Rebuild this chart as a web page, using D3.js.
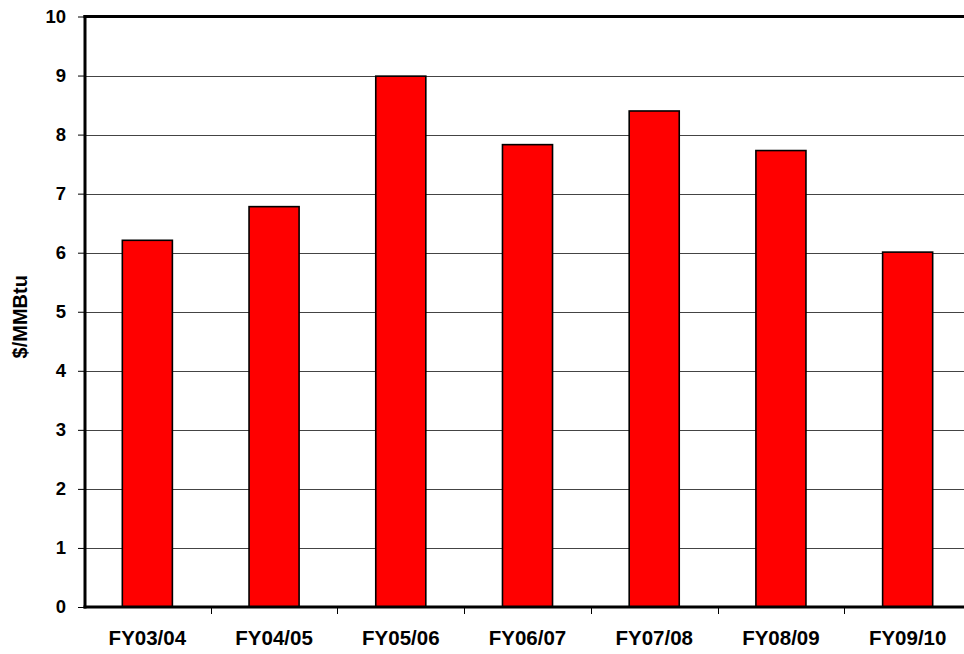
<!DOCTYPE html>
<html>
<head>
<meta charset="utf-8">
<script src="https://cdn.jsdelivr.net/npm/d3@7"></script>
<style>
  body { margin: 0; background: #fff; }
  svg { display: block; font-family: "Liberation Sans", Arial, sans-serif; font-weight: bold; }
</style>
</head>
<body>
<svg width="964" height="654"></svg>
<script>
const categories = ["FY03/04", "FY04/05", "FY05/06", "FY06/07", "FY07/08", "FY08/09", "FY09/10"];
const prices = [6.21, 6.78, 8.99, 7.83, 8.40, 7.73, 6.01];
const yTicks = [0, 1, 2, 3, 4, 5, 6, 7, 8, 9, 10];

const svg = d3.select("svg");
const plotLeft = 85, plotRight = 971, plotTop = 16.5, plotBottom = 607;

const x = d3.scaleBand()
  .domain(categories)
  .range([84, plotRight])
  .paddingInner(0.605)
  .paddingOuter(0.3025);

const y = d3.scaleLinear().domain([0, 10]).range([plotBottom, plotTop]);

// gridlines
svg.append("g")
  .selectAll("line")
  .data(yTicks.filter(d => d > 0 && d < 10))
  .join("line")
  .attr("x1", plotLeft).attr("x2", 964)
  .attr("y1", d => Math.round(y(d)) + 0.5)
  .attr("y2", d => Math.round(y(d)) + 0.5)
  .attr("stroke", "#444")
  .attr("stroke-width", 1);

// bars
svg.append("g")
  .selectAll("rect")
  .data(prices)
  .join("rect")
  .attr("x", (d, i) => x(categories[i]))
  .attr("width", x.bandwidth())
  .attr("y", d => y(d))
  .attr("height", d => y(0) - y(d))
  .attr("fill", "#ff0000")
  .attr("stroke", "#000")
  .attr("stroke-width", 1.6);

// top border
svg.append("line")
  .attr("x1", plotLeft - 1.5).attr("x2", 964)
  .attr("y1", y(10)).attr("y2", y(10))
  .attr("stroke", "#000").attr("stroke-width", 3);

// y axis
const yAxis = svg.append("g")
  .attr("transform", `translate(${plotLeft},0)`)
  .call(d3.axisLeft(y).tickValues(yTicks).tickSize(7).tickPadding(12).tickFormat(d3.format("d")));
yAxis.select(".domain").remove();
yAxis.selectAll(".tick line").attr("stroke", "#000");
yAxis.selectAll(".tick text")
  .attr("font-size", 18.5)
  .attr("font-family", "Liberation Sans, Arial, sans-serif")
  .attr("font-weight", "bold")
  .attr("fill", "#000");

svg.append("line")
  .attr("x1", plotLeft).attr("x2", plotLeft)
  .attr("y1", y(10) - 1.5).attr("y2", plotBottom + 1.5)
  .attr("stroke", "#000").attr("stroke-width", 3);

// x axis
const xAxis = svg.append("g")
  .attr("transform", `translate(0,${plotBottom})`)
  .call(d3.axisBottom(x).tickSize(0).tickPadding(23));
xAxis.select(".domain").remove();
xAxis.selectAll(".tick text")
  .attr("font-size", 20.5)
  .attr("font-family", "Liberation Sans, Arial, sans-serif")
  .attr("font-weight", "bold")
  .attr("fill", "#000");

// category separator ticks
svg.append("g")
  .selectAll("line")
  .data(categories.slice(1))
  .join("line")
  .attr("x1", d => Math.round(x(d) - x.step() * x.paddingInner() / 2) + 0.5)
  .attr("x2", d => Math.round(x(d) - x.step() * x.paddingInner() / 2) + 0.5)
  .attr("y1", plotBottom).attr("y2", plotBottom + 7)
  .attr("stroke", "#000");

svg.append("line")
  .attr("x1", plotLeft - 1.5).attr("x2", 964)
  .attr("y1", plotBottom).attr("y2", plotBottom)
  .attr("stroke", "#000").attr("stroke-width", 3);

// y label
svg.append("text")
  .attr("transform", `translate(27,${(plotTop + plotBottom) / 2 + 5}) rotate(-90)`)
  .attr("text-anchor", "middle")
  .attr("font-size", 20)
  .attr("fill", "#000")
  .text("$/MMBtu");
</script>
</body>
</html>
